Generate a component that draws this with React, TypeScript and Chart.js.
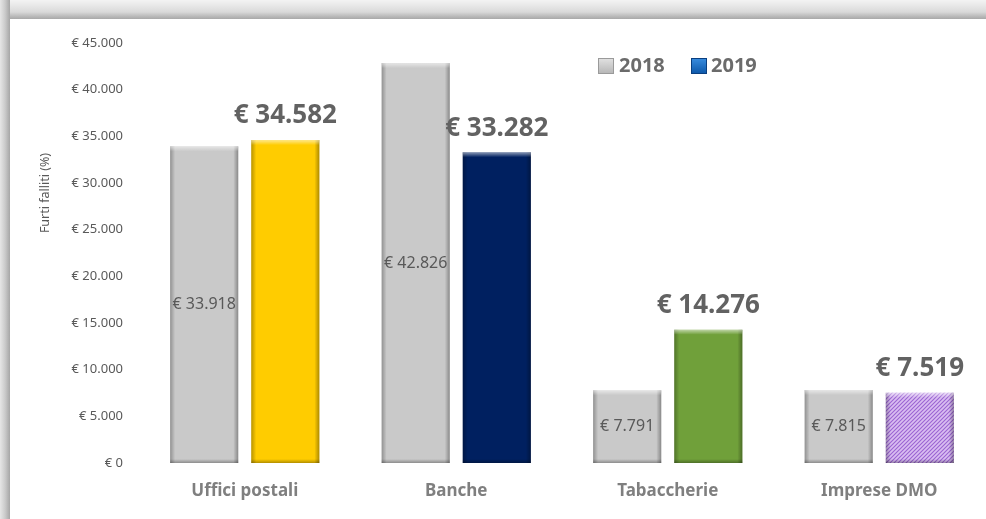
import React, { useEffect, useRef } from "react";
import { Chart, registerables } from "chart.js";

Chart.register(...registerables);

// ---- Data ----
const categories = ["Uffici postali", "Banche", "Tabaccherie", "Imprese DMO"];
const seriesNames = ["2018", "2019"];
const values2018 = [33918, 42826, 7791, 7815];
const values2019 = [34582, 33282, 14276, 7519];
const yMin = 0;
const yMax = 45000;
const yStep = 5000;
const axisTitle = "Furti falliti (%)";

const color2018 = "#c9c9c9";
const colors2019 = ["#ffcc00", "#002060", "#70a03a", "PATTERN"];

const FONT = "'Noto Sans', 'Open Sans', sans-serif";

function fmtEuro(v: number): string {
  return "€ " + String(v).replace(/\B(?=(\d{3})+(?!\d))/g, ".");
}

function makePurplePattern(ctx: CanvasRenderingContext2D): CanvasPattern | string {
  const c = document.createElement("canvas");
  c.width = 4;
  c.height = 4;
  const p = c.getContext("2d");
  if (!p) return "#c49be6";
  p.fillStyle = "#c8a2ea";
  p.fillRect(0, 0, 4, 4);
  p.strokeStyle = "#9d6ad2";
  p.lineWidth = 1;
  for (let k = -4; k <= 8; k += 4) {
    p.beginPath();
    p.moveTo(k, 4);
    p.lineTo(k + 4, 0);
    p.stroke();
  }
  p.strokeStyle = "rgba(255,255,255,0.45)";
  p.lineWidth = 0.7;
  for (let k = -2; k <= 8; k += 4) {
    p.beginPath();
    p.moveTo(k, 4);
    p.lineTo(k + 4, 0);
    p.stroke();
  }
  return ctx.createPattern(c, "repeat") || "#c49be6";
}

const bevelPlugin = {
  id: "bevel",
  afterDatasetsDraw(chart: any) {
    const ctx: CanvasRenderingContext2D = chart.ctx;
    chart.data.datasets.forEach((_ds: any, di: number) => {
      const meta = chart.getDatasetMeta(di);
      meta.data.forEach((bar: any) => {
        const { x, y, base, width } = bar.getProps(["x", "y", "base", "width"], true);
        const l = x - width / 2;
        const r = x + width / 2;
        const t = Math.min(y, base);
        const b = Math.max(y, base);
        const h = b - t;
        ctx.save();
        let g = ctx.createLinearGradient(l, 0, l + 5, 0);
        g.addColorStop(0, "rgba(0,0,0,0.28)");
        g.addColorStop(1, "rgba(0,0,0,0)");
        ctx.fillStyle = g;
        ctx.fillRect(l, t, 5, h);
        g = ctx.createLinearGradient(r - 5, 0, r, 0);
        g.addColorStop(0, "rgba(0,0,0,0)");
        g.addColorStop(1, "rgba(0,0,0,0.32)");
        ctx.fillStyle = g;
        ctx.fillRect(r - 5, t, 5, h);
        g = ctx.createLinearGradient(0, b - 4, 0, b);
        g.addColorStop(0, "rgba(0,0,0,0)");
        g.addColorStop(1, "rgba(0,0,0,0.3)");
        ctx.fillStyle = g;
        ctx.fillRect(l, b - 4, width, 4);
        g = ctx.createLinearGradient(0, t, 0, t + 5);
        g.addColorStop(0, "rgba(255,255,255,0.55)");
        g.addColorStop(1, "rgba(255,255,255,0)");
        ctx.fillStyle = g;
        ctx.fillRect(l, t, width, 5);
        ctx.restore();
      });
    });
  },
};

const labelsPlugin = {
  id: "valueLabels",
  afterDatasetsDraw(chart: any) {
    const ctx: CanvasRenderingContext2D = chart.ctx;
    ctx.save();
    ctx.textAlign = "center";
    ctx.textBaseline = "middle";
    const m0 = chart.getDatasetMeta(0);
    m0.data.forEach((bar: any, i: number) => {
      const { x, y, base } = bar.getProps(["x", "y", "base"], true);
      ctx.font = `16px ${FONT}`;
      ctx.fillStyle = "#595959";
      ctx.fillText(fmtEuro(values2018[i]), x, (y + base) / 2);
    });
    const m1 = chart.getDatasetMeta(1);
    m1.data.forEach((bar: any, i: number) => {
      const { x, y } = bar.getProps(["x", "y"], true);
      ctx.font = `bold 26px ${FONT}`;
      ctx.fillStyle = "#626262";
      ctx.fillText(fmtEuro(values2019[i]), x, y - 24);
    });
    ctx.restore();
  },
};

const decorPlugin = {
  id: "decor",
  afterDraw(chart: any) {
    const ctx: CanvasRenderingContext2D = chart.ctx;
    ctx.save();
    ctx.translate(35, 174);
    ctx.rotate(-Math.PI / 2);
    ctx.font = `12.5px ${FONT}`;
    ctx.fillStyle = "#595959";
    ctx.textAlign = "center";
    ctx.textBaseline = "middle";
    ctx.fillText(axisTitle, 0, 0);
    ctx.restore();

    const items = [
      { name: seriesNames[0], bx: 588, tx: 609, c1: "#e2e2e2", c2: "#b5b5b5", border: "#9a9a9a" },
      { name: seriesNames[1], bx: 681, tx: 701, c1: "#3a8ee0", c2: "#0b56a8", border: "#0a3f80" },
    ];
    const by = 39;
    items.forEach((it) => {
      ctx.save();
      const g = ctx.createLinearGradient(0, by, 0, by + 16);
      g.addColorStop(0, it.c1);
      g.addColorStop(1, it.c2);
      ctx.fillStyle = g;
      ctx.fillRect(it.bx, by, 16, 16);
      ctx.strokeStyle = it.border;
      ctx.lineWidth = 1;
      ctx.strokeRect(it.bx + 0.5, by + 0.5, 15, 15);
      ctx.font = `bold 20px ${FONT}`;
      ctx.fillStyle = "#6b6b6b";
      ctx.textAlign = "left";
      ctx.textBaseline = "middle";
      ctx.fillText(it.name, it.tx, by + 8);
      ctx.restore();
    });
  },
};

export default function App() {
  const canvasRef = useRef<HTMLCanvasElement | null>(null);

  useEffect(() => {
    const canvas = canvasRef.current;
    if (!canvas) return;
    const ctx = canvas.getContext("2d");
    if (!ctx) return;
    const pattern = makePurplePattern(ctx);
    const bg2019 = colors2019.map((c) => (c === "PATTERN" ? pattern : c));

    const chart = new Chart(ctx, {
      type: "bar",
      data: {
        labels: categories,
        datasets: [
          {
            label: seriesNames[0],
            data: values2018,
            backgroundColor: color2018,
            borderWidth: 0,
            categoryPercentage: 0.767,
            barPercentage: 0.84,
          },
          {
            label: seriesNames[1],
            data: values2019,
            backgroundColor: bg2019 as any,
            borderWidth: 0,
            categoryPercentage: 0.767,
            barPercentage: 0.84,
          },
        ],
      },
      options: {
        responsive: false,
        animation: false,
        devicePixelRatio: 1,
        layout: { padding: { top: 22, right: 1, left: 0, bottom: 0 } },
        plugins: {
          legend: { display: false },
          tooltip: { enabled: false },
          title: { display: false },
        },
        scales: {
          x: {
            grid: { display: false, drawTicks: false },
            border: { display: false },
            ticks: {
              padding: 18,
              color: "#7f7f7f",
              font: { family: FONT, size: 17, weight: "bold" },
            },
            afterFit: (s: any) => {
              s.height = 56;
            },
          },
          y: {
            min: yMin,
            max: yMax,
            grid: { display: false, drawTicks: false },
            border: { display: false },
            ticks: {
              stepSize: yStep,
              padding: 16,
              color: "#595959",
              font: { family: FONT, size: 13 },
              callback: (v: any) => fmtEuro(Number(v)),
            },
            afterFit: (s: any) => {
              s.width = 129;
            },
          },
        },
      },
      plugins: [bevelPlugin, labelsPlugin, decorPlugin],
    });
    return () => chart.destroy();
  }, []);

  return (
    <div
      style={{
        position: "absolute",
        left: 0,
        top: 0,
        width: 986,
        height: 519,
        background: "#ffffff",
        overflow: "hidden",
      }}
    >
      <div
        style={{
          position: "absolute",
          left: 0,
          top: 0,
          width: 986,
          height: 19,
          background:
            "linear-gradient(to bottom, #f3f3f3 0px, #e7e7e7 6px, #d9d9d9 12px, #bcbcbc 16px, #a8a8a8 19px)",
        }}
      />
      <div
        style={{
          position: "absolute",
          left: 0,
          top: 0,
          width: 10,
          height: 519,
          background:
            "linear-gradient(to right, #e6e6e6 0px, #cbcbcb 5px, #a6a6a6 10px)",
        }}
      />
      <canvas
        ref={canvasRef}
        width={976}
        height={500}
        style={{ position: "absolute", left: 10, top: 19, width: 976, height: 500 }}
      />
    </div>
  );
}
